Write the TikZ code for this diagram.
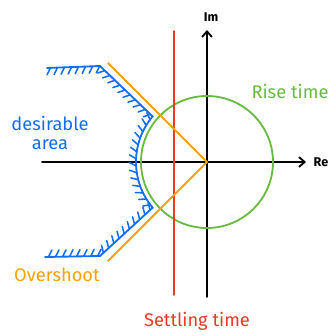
\documentclass[tikz,border=0pt]{standalone}
\usepackage{fontspec}
\setmainfont{Fira Sans}
\usetikzlibrary{arrows.meta,decorations.markings}

\definecolor{hatchblue}{RGB}{20,110,245}
\definecolor{riseGreen}{RGB}{104,186,64}
\definecolor{overOrange}{RGB}{246,160,10}
\definecolor{settleRed}{RGB}{236,58,40}

\begin{document}
\begin{tikzpicture}[x=0.025cm,y=0.025cm,line cap=round,
  axis/.style={line width=1.3pt,-{Straight Barb[length=4pt,width=7pt]}},
  lbl/.style={font=\fontsize{13}{14}\selectfont},
  hatched/.style={postaction={decorate,decoration={markings,
    mark=between positions 0.01 and 1 step 5pt with
      {\draw[hatchblue,line width=1.1pt] (0,0) -- (2.5pt,4.8pt);}}}}]
  \useasboundingbox (-207,-174) rectangle (129,162);

  % axes
  \draw[axis] (-165,0) -- (99,0);
  \draw[axis] (0,-135) -- (0,132);
  \node[font=\bfseries\small] (im) at (4,145) {Im};
  \node[font=\bfseries\small] (re) at (114,0) {Re};

  % rise time circle
  \draw[riseGreen,line width=1.3pt] (0,0) circle (66);
  \node[lbl,text=riseGreen] (rise) at (83,71) {Rise time};

  % settling time
  \draw[settleRed,line width=1.3pt] (-33,131) -- (-33,-133);
  \node[lbl,text=settleRed] (settle) at (-10,-159) {Settling time};

  % overshoot lines
  \draw[overOrange,line width=1.3pt] (0,0) -- (135:140);
  \draw[overOrange,line width=1.3pt] (0,0) -- (225:140);
  \node[lbl,text=overOrange] (over) at (-150,-113) {Overshoot};

  % desirable area, hatched border
  \draw[hatchblue,line width=1.3pt,hatched]
    (-162,-95) -- (-107,-94) -- (220:71) arc (220:140:71)
    -- (-107,96) -- (-160,94);
  \node[lbl,text=hatchblue,align=center] (des) at (-157,29)
    {desirable\\area};
\end{tikzpicture}
\end{document}
